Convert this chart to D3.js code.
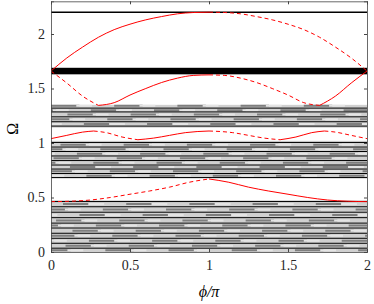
<!DOCTYPE html>
<html lang="en">
<head>
<meta charset="UTF-8">
<title>Band diagram</title>
<script src="https://d3js.org/d3.v7.min.js"></script>
<style>
    body { margin: 0; background: white; }
    svg { display: block; }
    .axis text { font-family: "Liberation Serif", "DejaVu Serif", serif; font-size: 14px; fill: #262626; }
    .axis path, .axis line { stroke: #444; }
</style>
</head>
<body>
<svg width="374" height="304"></svg>
<script>
    // axis ticks
    let xTicks = [0, 0.5, 1, 1.5, 2];
    let yTicks = [0, 0.5, 1, 1.5, 2];

    // flat bands
    let topLine = 2.2;
    let thickBand = [1.63, 1.69];

    // continuum bands (Omega ranges) with their flat lines
    let bandRanges = [[1.14, 1.35], [0.675, 1.02], [0, 0.475]];
    let blackLines = [1.32, 1.285, 1.24, 1.195, 1.155,
        1.005, 0.963, 0.922, 0.881, 0.839, 0.798, 0.761, 0.72, 0.683,
        0.463, 0.415, 0.365, 0.315, 0.265, 0.22, 0.172, 0.126, 0.08, 0.035];
    let grayLines = [1.342, 1.30, 1.262, 1.218, 1.175,
        0.984, 0.943, 0.902, 0.86, 0.818, 0.78, 0.74, 0.70,
        0.44, 0.39, 0.34, 0.29, 0.243, 0.196, 0.149, 0.103, 0.057, 0.015];

    // red curves: phi/pi and Omega samples
    let phi1 = [0, 0.1, 0.2, 0.3, 0.4, 0.5, 0.6, 0.7, 0.8, 0.9, 1.0, 1.1, 1.2, 1.3, 1.4, 1.5, 1.6, 1.7, 1.8, 1.9, 2.0];
    let om1 = [1.66, 1.78, 1.88, 1.97, 2.04, 2.09, 2.13, 2.16, 2.185, 2.197, 2.2, 2.197, 2.185, 2.16, 2.13, 2.09, 2.04, 1.97, 1.88, 1.78, 1.66];
    let seg1 = [[0, 1, false], [1, 2, true]];

    let phi2 = [0, 0.1, 0.2, 0.3, 0.4, 0.5, 0.6, 0.7, 0.8, 0.9, 1.0, 1.1, 1.2, 1.3, 1.4, 1.5, 1.6, 1.7, 1.8, 1.9, 2.0];
    let om2 = [1.66, 1.55, 1.43, 1.345, 1.37, 1.44, 1.50, 1.555, 1.595, 1.62, 1.625, 1.62, 1.595, 1.555, 1.50, 1.44, 1.37, 1.345, 1.43, 1.55, 1.66];
    let seg2 = [[0, 0.3, true], [0.3, 1, false], [1, 1.7, true], [1.7, 2, false]];

    let phi3 = [0, 0.1, 0.2, 0.27, 0.35, 0.45, 0.55, 0.65, 0.75, 0.85, 1.0, 1.15, 1.25, 1.35, 1.45, 1.55, 1.65, 1.73, 1.8, 1.9, 2.0];
    let om3 = [1.04, 1.07, 1.10, 1.11, 1.095, 1.055, 1.03, 1.045, 1.07, 1.095, 1.11, 1.095, 1.07, 1.045, 1.03, 1.055, 1.095, 1.11, 1.10, 1.07, 1.04];
    let seg3 = [[0, 0.27, false], [0.27, 0.55, true], [0.55, 1, false], [1, 1.45, true], [1.45, 1.73, false], [1.73, 2, true]];

    let phi4 = [0, 0.125, 0.25, 0.375, 0.5, 0.625, 0.75, 0.875, 1.0, 1.125, 1.25, 1.375, 1.5, 1.625, 1.75, 1.875, 2.0];
    let om4 = [0.462, 0.466, 0.477, 0.50, 0.53, 0.56, 0.595, 0.64, 0.67, 0.64, 0.595, 0.56, 0.53, 0.50, 0.477, 0.466, 0.462];
    let seg4 = [[0, 1, true], [1, 2, false]];

    let svg = d3.select('svg');
    let margins = {left: 51, right: 7, top: 1.3, bottom: 52};
    let W = 374, H = 304;

    let xScale = d3.scaleLinear().domain([0, 2]).range([margins.left, W - margins.right]);
    let yScale = d3.scaleLinear().domain([0, 2.3]).range([H - margins.bottom, margins.top]);

    let plot = svg.append('g');

    // continuum backgrounds
    plot.selectAll('rect.band').data(bandRanges).enter().append('rect')
        .attr('x', xScale(0)).attr('width', xScale(2) - xScale(0))
        .attr('y', d => yScale(d[1])).attr('height', d => yScale(d[0]) - yScale(d[1]))
        .attr('fill', '#d0d0d0');

    // gray texture between the flat lines (dark and light patches)
    let period = xScale(0.4) - xScale(0);
    plot.selectAll('line.gray').data(grayLines).enter().append('line')
        .attr('x1', xScale(0)).attr('x2', xScale(2))
        .attr('y1', d => yScale(d)).attr('y2', d => yScale(d))
        .attr('stroke', '#7e7e7e').attr('stroke-width', 2)
        .attr('stroke-dasharray', (period * 0.45) + ',' + (period * 0.55))
        .attr('stroke-dashoffset', (d, i) => (i * 0.37 * period) % period);
    plot.selectAll('line.light').data(grayLines).enter().append('line')
        .attr('x1', xScale(0)).attr('x2', xScale(2))
        .attr('y1', d => yScale(d)).attr('y2', d => yScale(d))
        .attr('stroke', '#e4e4e4').attr('stroke-width', 2)
        .attr('stroke-dasharray', (period * 0.25) + ',' + (period * 0.75))
        .attr('stroke-dashoffset', (d, i) => ((i * 0.37 + 0.6) * period) % period);

    // black flat lines
    plot.selectAll('line.black').data(blackLines).enter().append('line')
        .attr('x1', xScale(0)).attr('x2', xScale(2))
        .attr('y1', d => yScale(d)).attr('y2', d => yScale(d))
        .attr('stroke', '#000').attr('stroke-width', 1);

    plot.append('rect')
        .attr('x', xScale(0)).attr('width', xScale(2) - xScale(0))
        .attr('y', yScale(thickBand[1])).attr('height', yScale(thickBand[0]) - yScale(thickBand[1]))
        .attr('fill', '#000');

    plot.append('line')
        .attr('x1', xScale(0)).attr('x2', xScale(2))
        .attr('y1', yScale(topLine)).attr('y2', yScale(topLine))
        .attr('stroke', '#000').attr('stroke-width', 1.5);

    // red curves
    let line = d3.line().x(d => xScale(d[0])).y(d => yScale(d[1])).curve(d3.curveMonotoneX);
    let curves = [[phi1, om1, seg1], [phi2, om2, seg2], [phi3, om3, seg3], [phi4, om4, seg4]];
    curves.forEach(function (c) {
        let pts = c[0].map((p, i) => [p, c[1][i]]);
        c[2].forEach(function (s) {
            let part = pts.filter(p => p[0] >= s[0] - 1e-9 && p[0] <= s[1] + 1e-9);
            plot.append('path').attr('d', line(part))
                .attr('fill', 'none').attr('stroke', '#ff0000').attr('stroke-width', 1)
                .attr('stroke-dasharray', s[2] ? '4,3' : null);
        });
    });

    // axes (box with inward ticks)
    svg.append('g').attr('class', 'axis')
        .attr('transform', 'translate(0,' + yScale(0) + ')')
        .call(d3.axisBottom(xScale).tickValues(xTicks).tickSize(-3).tickPadding(8).tickFormat(d3.format('')));
    svg.append('g').attr('class', 'axis')
        .attr('transform', 'translate(0,' + yScale(2.3) + ')')
        .call(d3.axisTop(xScale).tickValues(xTicks).tickSize(-3).tickFormat(''));
    svg.append('g').attr('class', 'axis')
        .attr('transform', 'translate(' + xScale(0) + ',0)')
        .call(d3.axisLeft(yScale).tickValues(yTicks).tickSize(-3).tickPadding(6).tickFormat(d3.format('')));
    svg.append('g').attr('class', 'axis')
        .attr('transform', 'translate(' + xScale(2) + ',0)')
        .call(d3.axisRight(yScale).tickValues(yTicks).tickSize(-3).tickFormat(''));
    svg.selectAll('.axis path').attr('stroke-width', 0.8);

    // axis labels
    svg.append('text')
        .attr('x', xScale(1)).attr('y', 297)
        .attr('text-anchor', 'middle')
        .style('font-family', '"Liberation Serif", "DejaVu Serif", serif')
        .style('font-size', '16px').style('font-style', 'italic')
        .text('ϕ/π');
    svg.append('text')
        .attr('transform', 'translate(18,' + yScale(1.13) + ') rotate(-90)')
        .attr('text-anchor', 'middle')
        .style('font-family', '"Liberation Serif", "DejaVu Serif", serif')
        .style('font-size', '16px')
        .text('Ω');
</script>
</body>
</html>
